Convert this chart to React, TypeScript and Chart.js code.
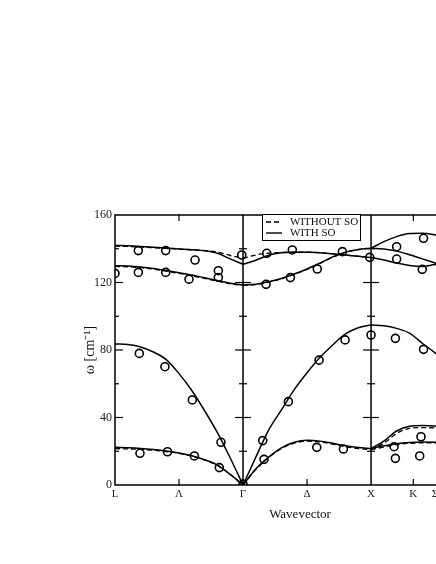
import React, { useEffect, useRef } from 'react';
import { Chart, registerables } from 'chart.js';
Chart.register(...registerables);

// ---- x positions of sample points along each path segment ----
const xLG = [0, 0.1, 0.2, 0.3, 0.4, 0.5, 0.6, 0.7, 0.8, 0.9, 1.0];
const xGX = [1.0, 1.1, 1.2, 1.3, 1.4, 1.5, 1.6, 1.7, 1.8, 1.9, 2.0];
const xXS = [2.0, 2.1, 2.2, 2.3, 2.4, 2.5, 2.6];

// ---- WITH SO (solid) ----
const taLG = [22.3, 22.1, 21.7, 21.0, 20.1, 18.9, 17.3, 15.0, 11.8, 6.3, 0];
const laLG = [83.6, 83.2, 81.8, 78.8, 74.3, 66.0, 56.0, 44.0, 31.0, 16.0, 0];
const opLoLG = [130.0, 129.8, 129.2, 128.3, 127.1, 125.8, 124.4, 122.8, 121.2, 119.5, 118.5];
const opHiLG = [142.0, 141.8, 141.4, 140.9, 140.4, 139.9, 139.4, 138.8, 137.3, 134.0, 130.8];

const taGX = [0, 9.5, 16.5, 22.0, 25.3, 26.5, 26.0, 24.7, 23.2, 22.2, 21.7];
const laGX = [0, 16.5, 32.5, 44.5, 56.5, 66.5, 75.5, 83.0, 89.5, 93.2, 94.8];
const opAGX = [130.8, 133.2, 136.2, 137.6, 138.0, 138.0, 137.6, 137.0, 136.3, 135.5, 134.8];
const opBGX = [118.5, 119.0, 120.4, 122.4, 125.0, 128.0, 131.5, 135.2, 138.0, 139.6, 140.3];

const taHiXS = [21.7, 26.0, 32.0, 34.8, 35.2, 35.0, 34.5];
const taLoXS = [21.7, 23.2, 24.5, 25.2, 25.5, 25.3, 25.0];
const laXS = [94.8, 94.4, 92.8, 90.0, 84.0, 78.3, 72.0];
const opTopXS = [140.3, 144.2, 147.2, 149.0, 149.2, 148.2, 146.5];
const opMidXS = [140.3, 139.8, 138.6, 136.4, 134.0, 131.6, 129.5];
const opLowXS = [134.8, 133.3, 131.5, 130.1, 129.5, 130.6, 131.0];

// ---- WITHOUT SO (dashed) ----
const taLGd = [21.5, 21.4, 21.1, 20.6, 19.8, 18.7, 17.1, 14.8, 11.6, 6.2, 0];
const opLoLGd = [129.5, 129.3, 128.8, 127.9, 126.7, 125.4, 124.0, 122.4, 120.8, 119.2, 118.3];
const opHiLGd = [141.6, 141.4, 141.0, 140.6, 140.2, 139.8, 139.4, 138.9, 138.0, 136.0, 134.3];
const taGXd = [0, 9.3, 16.2, 21.6, 24.8, 26.0, 25.5, 24.2, 22.7, 21.6, 21.0];
const opAGXd = [134.3, 136.3, 137.4, 137.8, 138.0, 138.0, 137.6, 137.0, 136.3, 135.5, 134.8];
const opBGXd = [118.3, 118.8, 120.2, 122.2, 124.8, 127.8, 131.3, 135.0, 137.8, 139.5, 140.3];
const taHiXSd = [21.0, 24.8, 30.5, 33.6, 34.0, 33.8, 33.4];
const taLoXSd = [21.0, 22.5, 24.0, 24.7, 25.0, 24.9, 24.6];

// ---- experimental points (circles) ----
const expX = [0, 0.182, 0.182, 0.396, 0.396, 0.625, 0.578, 0.807, 0.807, 0.99,
  1.18, 1.185, 1.385, 1.37, 1.58, 1.776, 1.99, 2.2, 2.2, 2.4, 2.41,
  0.19, 0.39, 0.604, 0.828, 0.195, 0.41, 0.62, 0.815, 1.0,
  1.154, 1.164, 1.354, 1.594, 1.797, 1.576, 1.784, 2.0,
  2.19, 2.41, 2.18, 2.19, 2.38, 2.39];
const expY = [125.4, 138.9, 126.0, 138.9, 126.0, 133.3, 122.0, 127.0, 123.0, 136.3,
  118.9, 137.3, 139.3, 122.9, 128.0, 138.3, 134.9, 141.2, 133.9, 127.8, 146.2,
  78.0, 70.1, 50.4, 25.3, 18.8, 19.7, 17.2, 10.3, 0.5,
  26.3, 15.2, 49.4, 74.0, 86.0, 22.3, 21.3, 88.9,
  86.9, 80.4, 22.7, 15.8, 17.2, 28.6];

// ---- axis ticks ----
const xTickPos = [0, 0.5, 1, 1.5, 2, 2.33, 2.5];
const xTickLabels = ['L', 'Λ', 'Γ', 'Δ', 'X', 'K', 'Σ'];
const symLines = [1, 2];
const innerTicks = [0.5, 1.5, 2.33];
const X_MAX = 2.89;

const W = 520;
const H = 540;
const AREA_LEFT = 115;
const AREA_RIGHT = 485;
const AREA_TOP = 215;
const AREA_BOTTOM = 485;
const SERIF = '"Liberation Serif", "Times New Roman", serif';

const framePlugin = {
  id: 'frame',
  afterDraw(chart: any) {
    const { ctx, chartArea: a, scales } = chart;
    const x = scales.x;
    const y = scales.y;
    const line = (x1: number, y1: number, x2: number, y2: number) => {
      ctx.beginPath();
      ctx.moveTo(x1, y1);
      ctx.lineTo(x2, y2);
      ctx.stroke();
    };
    ctx.save();
    ctx.strokeStyle = '#000';
    ctx.lineWidth = 1.5;
    ctx.strokeRect(a.left, a.top, a.right - a.left, a.bottom - a.top);
    for (const v of symLines) {
      const px = x.getPixelForValue(v);
      line(px, a.top, px, a.bottom);
    }
    ctx.lineWidth = 1.2;
    for (let t = 20; t < 160; t += 20) {
      const py = y.getPixelForValue(t);
      const len = t % 40 === 0 ? 8 : 4;
      line(a.left, py, a.left + len, py);
      line(a.right, py, a.right - len, py);
      for (const v of symLines) {
        const px = x.getPixelForValue(v);
        line(px - len, py, px + len, py);
      }
    }
    for (const v of innerTicks) {
      const px = x.getPixelForValue(v);
      line(px, a.top, px, a.top + 6);
      line(px, a.bottom, px, a.bottom - 6);
    }
    // legend box
    const lx = a.left + 147;
    const ly = a.top - 1;
    ctx.fillStyle = '#fff';
    ctx.fillRect(lx, ly, 98, 26);
    ctx.lineWidth = 1;
    ctx.strokeRect(lx + 0.5, ly + 0.5, 98, 26);
    ctx.lineWidth = 1.4;
    ctx.setLineDash([5, 3]);
    line(lx + 4, a.top + 7, lx + 20, a.top + 7);
    ctx.setLineDash([]);
    line(lx + 4, a.top + 18, lx + 20, a.top + 18);
    ctx.fillStyle = '#111';
    ctx.font = `11px ${SERIF}`;
    ctx.textBaseline = 'middle';
    ctx.textAlign = 'left';
    ctx.fillText('WITHOUT SO', lx + 28, a.top + 7.5);
    ctx.fillText('WITH SO', lx + 28, a.top + 18.5);
    ctx.restore();
  },
};

export default function App() {
  const ref = useRef<HTMLCanvasElement>(null);
  useEffect(() => {
    const canvas = ref.current;
    if (!canvas) return;
    const pts = (xs: number[], ys: number[]) => xs.map((v, i) => ({ x: v, y: ys[i] }));
    const solid = (xs: number[], ys: number[]) => ({
      type: 'line' as const,
      data: pts(xs, ys),
      borderColor: '#000',
      borderWidth: 1.5,
      pointRadius: 0,
      cubicInterpolationMode: 'monotone' as const,
      fill: false,
    });
    const dashed = (xs: number[], ys: number[]) => ({
      ...solid(xs, ys),
      borderWidth: 1.3,
      borderDash: [5, 3],
    });
    const datasets: any[] = [
      solid(xLG, taLG), solid(xLG, laLG), solid(xLG, opLoLG), solid(xLG, opHiLG),
      solid(xGX, taGX), solid(xGX, laGX), solid(xGX, opAGX), solid(xGX, opBGX),
      solid(xXS, taHiXS), solid(xXS, taLoXS), solid(xXS, laXS),
      solid(xXS, opTopXS), solid(xXS, opMidXS), solid(xXS, opLowXS),
      dashed(xLG, taLGd), dashed(xLG, opLoLGd), dashed(xLG, opHiLGd),
      dashed(xGX, taGXd), dashed(xGX, opAGXd), dashed(xGX, opBGXd),
      dashed(xXS, taHiXSd), dashed(xXS, taLoXSd),
      {
        type: 'line',
        data: pts(expX, expY),
        showLine: false,
        pointRadius: 4,
        pointBorderWidth: 1.6,
        pointBorderColor: '#000',
        pointBackgroundColor: 'rgba(0,0,0,0)',
        borderColor: '#000',
      },
    ];
    const chart = new Chart(canvas, {
      type: 'line',
      data: { datasets },
      options: {
        animation: false,
        responsive: false,
        events: [],
        layout: { padding: { left: 0, top: AREA_TOP, right: W - AREA_RIGHT, bottom: 0 } },
        scales: {
          x: {
            type: 'linear',
            min: 0,
            max: X_MAX,
            afterFit: (s: any) => { s.height = H - AREA_BOTTOM; },
            afterBuildTicks: (s: any) => { s.ticks = xTickPos.map((v) => ({ value: v })); },
            ticks: {
              autoSkip: false,
              maxRotation: 0,
              padding: 3,
              color: '#222',
              font: { family: SERIF, size: 11 },
              callback: (v: any) => {
                const i = xTickPos.findIndex((p) => Math.abs(p - Number(v)) < 1e-6);
                return i >= 0 ? xTickLabels[i] : '';
              },
            },
            grid: { display: false, drawTicks: false },
            border: { display: false },
            title: {
              display: true,
              text: 'Wavevector',
              color: '#111',
              font: { family: SERIF, size: 13 },
              padding: { top: 0, bottom: 18 },
            },
          },
          y: {
            min: 0,
            max: 160,
            afterFit: (s: any) => { s.width = AREA_LEFT; },
            ticks: {
              stepSize: 40,
              padding: 3,
              color: '#222',
              font: { family: SERIF, size: 12 },
            },
            grid: { display: false, drawTicks: false },
            border: { display: false },
            title: {
              display: true,
              text: 'ω [cm⁻¹]',
              color: '#111',
              font: { family: SERIF, size: 14 },
              padding: { top: 82, bottom: 0 },
            },
          },
        },
        plugins: { legend: { display: false }, tooltip: { enabled: false } },
      },
      plugins: [framePlugin],
    } as any);
    return () => chart.destroy();
  }, []);
  return (
    <div style={{ position: 'fixed', left: 0, top: 0, width: '100vw', height: '100vh', overflow: 'hidden', background: '#fff' }}>
      <canvas ref={ref} width={W} height={H} style={{ display: 'block', width: W, height: H }} />
    </div>
  );
}
